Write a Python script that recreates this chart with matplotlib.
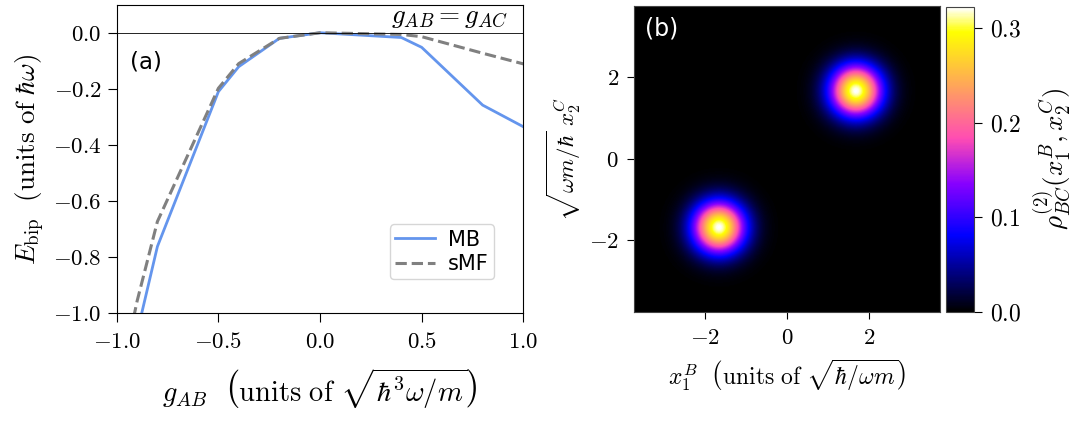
import numpy as np
import matplotlib
matplotlib.use('Agg')
from matplotlib import pyplot as plt

plt.rcParams['mathtext.fontset'] = 'cm'
plt.rcParams['font.family'] = 'serif'
plt.rcParams['font.serif'] = ['cmr10', 'DejaVu Serif']
plt.rcParams['axes.formatter.use_mathtext'] = True
plt.rcParams['axes.unicode_minus'] = True

# panel (a): bipartite energy vs g_AB
g_mb = [-1.0, -0.9, -0.8, -0.5, -0.4, -0.2, 0.0, 0.4, 0.5, 0.8, 1.0]
e_mb = [-1.6, -1.07, -0.762, -0.21, -0.121, -0.02, 0.0, -0.017, -0.052, -0.258, -0.335]
g_smf = [-1.0, -0.9, -0.8, -0.5, -0.4, -0.2, 0.0, 0.4, 0.5, 0.8, 1.0]
e_smf = [-1.3, -0.957, -0.673, -0.198, -0.11, -0.02, 0.0, -0.006, -0.014, -0.073, -0.111]

# panel (b): two-body density, two blobs on the diagonal
peak_centres = [(-1.68, -1.68), (1.68, 1.68)]
peak_height = 0.322
peak_width = 0.44
box = 3.75

fig = plt.figure(figsize=(10.75, 4.3), dpi=100)

ax1 = fig.add_axes([0.1086, 0.2714, 0.3782, 0.7177])
ax1.plot(g_mb, e_mb, color='cornflowerblue', lw=2, label='MB')
ax1.plot(g_smf, e_smf, color='gray', lw=2.2, ls='--', label='sMF')
ax1.axhline(0, color='k', lw=0.6)
ax1.set_xlim(-1, 1)
ax1.set_ylim(-1, 0.1)
ax1.set_xticks([-1, -0.5, 0, 0.5, 1])
ax1.set_xticklabels(['$-1.0$', '$-0.5$', '$0.0$', '$0.5$', '$1.0$'])
ax1.set_yticks([-1, -0.8, -0.6, -0.4, -0.2, 0])
ax1.set_yticklabels(['$-1.0$', '$-0.8$', '$-0.6$', '$-0.4$', '$-0.2$', '$0.0$'])
ax1.tick_params(labelsize=16.5, length=6.5)
ax1.tick_params(axis='x', pad=7)
ax1.tick_params(axis='y', pad=4.5)
ax1.set_xlabel(r'$g_{AB}\ \ \left(\mathrm{units\ of}\ \sqrt{\hbar^3\omega/m}\right)$',
               fontsize=20.5, labelpad=10)
ax1.set_ylabel(r'$E_{\mathrm{bip}}\ \ (\mathrm{units\ of}\ \hbar\omega)$', fontsize=19.5)
ax1.text(0.962, 0.94, r'$g_{AB} = g_{AC}$', transform=ax1.transAxes,
         ha='right', va='baseline', fontsize=19.5)
ax1.text(0.033, 0.85, '(a)', transform=ax1.transAxes, fontsize=16.5,
         family='DejaVu Sans', va='top')
leg = ax1.legend(loc='lower right', bbox_to_anchor=(0.928, 0.111), borderaxespad=0,
                 prop={'family': 'DejaVu Sans', 'size': 15}, handlelength=1.9,
                 handletextpad=0.65, labelspacing=0.2, borderpad=0.25)

ax2 = fig.add_axes([0.5898, 0.2751, 0.2847, 0.711])
x = np.linspace(-box, box, 300)
X, Y = np.meshgrid(x, x)
rho = np.zeros_like(X)
for cx, cy in peak_centres:
    rho += peak_height * np.exp(-((X - cx) ** 2 + (Y - cy) ** 2) / (2 * peak_width ** 2))
im = ax2.imshow(rho, origin='lower', extent=[-box, box, -box, box],
                cmap='gnuplot2', vmin=0, vmax=peak_height, aspect='auto')
ax2.set_xticks([-2, 0, 2])
ax2.set_yticks([-2, 0, 2])
ax2.set_xticklabels(['$-2$', '$0$', '$2$'])
ax2.set_yticklabels(['$-2$', '$0$', '$2$'])
ax2.tick_params(labelsize=16.5, length=5)
ax2.tick_params(axis='x', pad=7)
ax2.tick_params(axis='y', pad=6)
for s in ax2.spines.values():
    s.set_color('#444444')
ax2.set_xlabel(r'$x^B_1\ \ \left(\mathrm{units\ of}\ \sqrt{\hbar/\omega m}\right)$',
               fontsize=17, labelpad=7)
ax2.set_ylabel(r'$\sqrt{\omega m/\hbar}\ x^C_2$', fontsize=16.5)
ax2.text(0.036, 0.965, '(b)', transform=ax2.transAxes, fontsize=17,
         family='DejaVu Sans', va='top', color='white')

cax = fig.add_axes([0.88, 0.2751, 0.026, 0.708])
cb = fig.colorbar(im, cax=cax)
cb.set_ticks([0, 0.1, 0.2, 0.3])
cb.set_ticklabels(['$0.0$', '$0.1$', '$0.2$', '$0.3$'])
cb.ax.tick_params(labelsize=17, length=5.5, pad=6)
cb.outline.set_edgecolor('#444444')
cb.set_label(r'$\rho^{(2)}_{BC}(x^B_1, x^C_2)$', fontsize=19.5, labelpad=7)

fig.savefig('out.png', dpi=100)
